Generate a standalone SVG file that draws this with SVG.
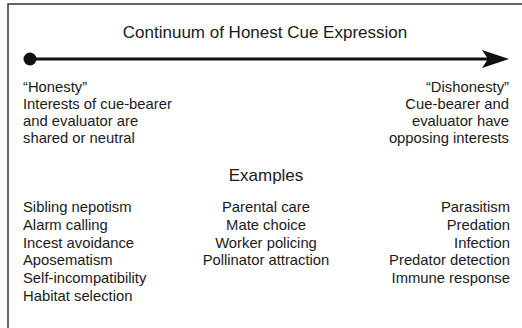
<svg xmlns="http://www.w3.org/2000/svg" width="522" height="328" viewBox="0 0 522 328">
<style>
text{font-family:"Liberation Sans",Arial,sans-serif;fill:#1a1a1a;font-size:14.8px}
.t{font-size:17px}
.m{text-anchor:middle}
.e{text-anchor:end}
</style>
<rect width="522" height="328" fill="#fff"/>
<path d="M8,328 V4 H522" fill="none" stroke="#333" stroke-width="1.5"/>
<g id="connectors">
<line x1="30" y1="59" x2="490" y2="59" stroke="#111" stroke-width="3"/>
<circle cx="30" cy="59" r="6.5" fill="#111"/>
<path d="M509,59 L482,50 L488,59 L482,68 Z" fill="#111"/>
</g>
<g id="title"><text class="t m" x="265" y="38">Continuum of Honest Cue Expression</text></g>
<g id="honesty">
<text x="23" y="92">“Honesty”</text>
<text x="23" y="109">Interests of cue-bearer</text>
<text x="23" y="126">and evaluator are</text>
<text x="23" y="143">shared or neutral</text>
</g>
<g id="dishonesty">
<text class="e" x="509" y="92">“Dishonesty”</text>
<text class="e" x="509" y="109">Cue-bearer and</text>
<text class="e" x="509" y="126">evaluator have</text>
<text class="e" x="509" y="143">opposing interests</text>
</g>
<g id="examples"><text class="t m" x="266" y="181">Examples</text></g>
<g id="col-left">
<text x="23" y="212">Sibling nepotism</text>
<text x="23" y="230">Alarm calling</text>
<text x="23" y="248">Incest avoidance</text>
<text x="23" y="265">Aposematism</text>
<text x="23" y="283">Self-incompatibility</text>
<text x="23" y="301">Habitat selection</text>
</g>
<g id="col-mid">
<text class="m" x="266" y="212">Parental care</text>
<text class="m" x="266" y="230">Mate choice</text>
<text class="m" x="266" y="248">Worker policing</text>
<text class="m" x="266" y="265">Pollinator attraction</text>
</g>
<g id="col-right">
<text class="e" x="510" y="212">Parasitism</text>
<text class="e" x="510" y="230">Predation</text>
<text class="e" x="510" y="248">Infection</text>
<text class="e" x="510" y="265">Predator detection</text>
<text class="e" x="510" y="283">Immune response</text>
</g>
</svg>
